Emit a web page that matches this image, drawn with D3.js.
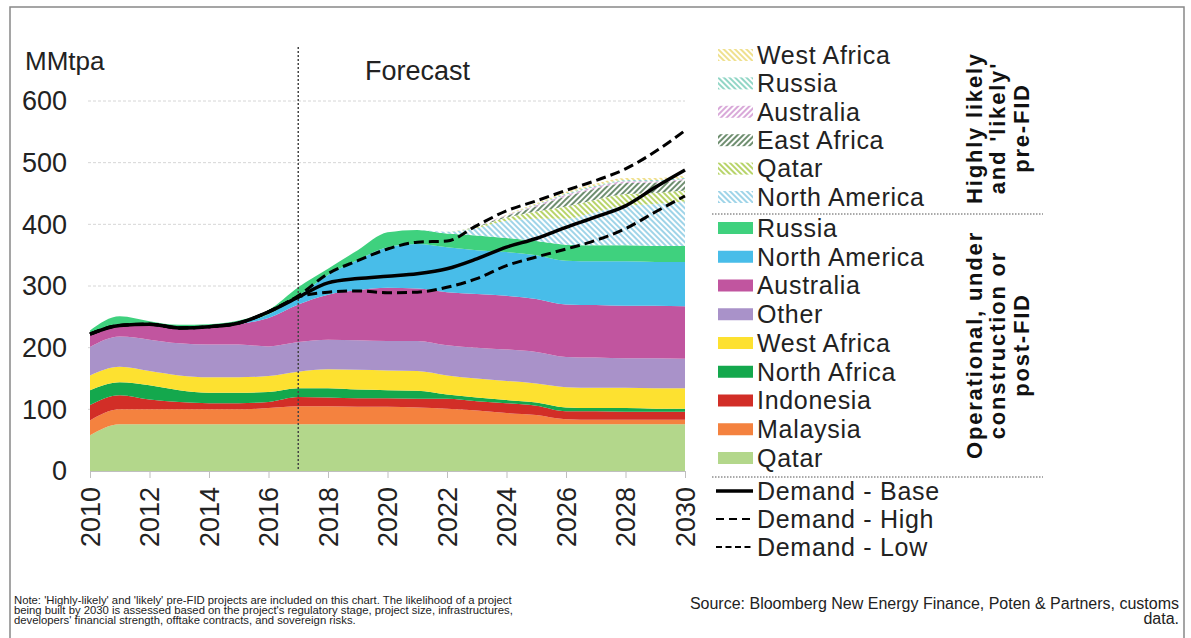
<!DOCTYPE html>
<html>
<head>
<meta charset="utf-8">
<script src="https://cdn.jsdelivr.net/npm/d3@7"></script>
<style>
  body { margin: 0; background: #fff; }
  svg { font-family: "Liberation Sans", Arial, sans-serif; }
</style>
</head>
<body>
<svg id="chart" width="1191" height="638"></svg>
<script>
// years on the x axis
const years = d3.range(2010, 2031);
const yTicks = [0, 100, 200, 300, 400, 500, 600];
const xTicks = d3.range(2010, 2031, 2);

// operational, under construction or post-FID (MMtpa), bottom -> top
const qatar        = [58, 76, 76, 76, 76, 76, 76, 76, 76, 76, 76, 76, 76, 76, 76, 76, 76, 76, 76, 76, 76];
const malaysia     = [24, 24, 24, 24, 24, 24, 26, 29, 29, 28, 28, 27, 25, 22, 18, 15, 8, 7, 7, 7, 7];
const indonesia    = [25, 23, 16, 12, 10, 10, 10, 15, 14, 14, 14, 14, 16, 15, 16, 15, 13, 14, 13, 13, 13];
const northAfrica  = [24, 21, 23, 19, 17, 17, 16, 14, 15, 14, 13, 13, 7, 6, 5, 5, 6, 5, 6, 5, 5];
const westAfrica   = [24, 25, 23, 24, 25, 25, 26, 27, 31, 32, 32, 32, 31, 31, 31, 31, 33, 33, 33, 33, 33];
const other        = [46, 49, 51, 52, 53, 53, 48, 48, 48, 48, 48, 49, 49, 50, 51, 51, 49, 49, 48, 49, 48];
const australia    = [21, 19, 23, 25, 29, 33, 46, 61, 73, 81, 86, 85, 86, 87, 87, 86, 85, 85, 85, 85, 85];
const northAmerica = [1, 1, 1, 1, 1, 2, 6, 14, 32, 49, 66, 72, 73, 71, 71, 71, 71, 71, 72, 71, 72];
const russia       = [5, 13, 6, 4, 3, 4, 7, 14, 10, 16, 24, 23, 22, 24, 23, 23, 26, 26, 26, 26, 26];

// highly likely and 'likely' pre-FID (MMtpa), bottom -> top
const pfNorthAmerica = [0, 0, 0, 0, 0, 0, 0, 0, 0, 0, 0, 0, 3, 12, 28, 36, 42, 54, 64, 68, 72];
const pfQatar        = [0, 0, 0, 0, 0, 0, 0, 0, 0, 0, 0, 0, 0, 2, 5, 12, 20, 20, 19, 18, 18];
const pfEastAfrica   = [0, 0, 0, 0, 0, 0, 0, 0, 0, 0, 0, 0, 0, 1, 3, 8, 16, 18, 18, 17, 17];
const pfAustralia    = [0, 0, 0, 0, 0, 0, 0, 0, 0, 0, 0, 0, 0, 0, 1, 2, 3, 3, 3, 2, 2];
const pfRussia       = [0, 0, 0, 0, 0, 0, 0, 0, 0, 0, 0, 0, 0, 0, 0, 1, 2, 2, 2, 2, 2];
const pfWestAfrica   = [0, 0, 0, 0, 0, 0, 0, 0, 0, 0, 0, 0, 0, 0, 1, 2, 3, 3, 3, 3, 3];

// demand scenarios
const demandBase = [222, 236, 238, 232, 234, 240, 258, 282, 305, 312, 316, 320, 328, 344, 363, 377, 395, 412, 430, 460, 488];
const demandHigh = [222, 236, 238, 232, 234, 240, 258, 284, 320, 341, 360, 371, 373, 398, 422, 438, 455, 471, 490, 518, 552];
const demandLow  = [222, 236, 238, 232, 234, 240, 258, 282, 290, 292, 289, 290, 298, 312, 333, 347, 360, 374, 393, 420, 446];

const opSeries = [
  { key: "op_qatar", label: "Qatar", values: qatar, color: "#b3d78b" },
  { key: "op_malaysia", label: "Malaysia", values: malaysia, color: "#f4823f" },
  { key: "op_indonesia", label: "Indonesia", values: indonesia, color: "#d22e27" },
  { key: "op_nafrica", label: "North Africa", values: northAfrica, color: "#14a84d" },
  { key: "op_wafrica", label: "West Africa", values: westAfrica, color: "#fde130" },
  { key: "op_other", label: "Other", values: other, color: "#a992c9" },
  { key: "op_australia", label: "Australia", values: australia, color: "#c1559f" },
  { key: "op_namerica", label: "North America", values: northAmerica, color: "#48bde9" },
  { key: "op_russia", label: "Russia", values: russia, color: "#3fd17e" }
];

const pfSeries = [
  { key: "pf_namerica", label: "North America", values: pfNorthAmerica, color: "#9fd4e8", angle: -45 },
  { key: "pf_qatar", label: "Qatar", values: pfQatar, color: "#b8d46a", angle: -45 },
  { key: "pf_eafrica", label: "East Africa", values: pfEastAfrica, color: "#6f8f70", angle: 45 },
  { key: "pf_australia", label: "Australia", values: pfAustralia, color: "#d9a9d9", angle: 45 },
  { key: "pf_russia", label: "Russia", values: pfRussia, color: "#92d6c6", angle: -45 },
  { key: "pf_wafrica", label: "West Africa", values: pfWestAfrica, color: "#efe08e", angle: -45 }
];

const allSeries = opSeries.concat(pfSeries);

const table = years.map((yr, i) => {
  let row = { year: yr };
  allSeries.forEach(s => { row[s.key] = s.values[i]; });
  return row;
});

const svg = d3.select("#chart");

const x = d3.scaleLinear().domain([2010, 2030]).range([90, 685]);
const y = d3.scaleLinear().domain([0, 600]).range([471, 101]);

// hatch patterns
const defs = svg.append("defs");
pfSeries.forEach(s => {
  let p = defs.append("pattern")
    .attr("id", "hatch_" + s.key)
    .attr("patternUnits", "userSpaceOnUse")
    .attr("width", 4)
    .attr("height", 4)
    .attr("patternTransform", "rotate(" + s.angle + ")");
  p.append("rect").attr("width", 4).attr("height", 4).attr("fill", "#fff");
  p.append("line")
    .attr("x1", 1).attr("y1", 0).attr("x2", 1).attr("y2", 4)
    .attr("stroke", s.color).attr("stroke-width", 2);
});

function fillOf(s) {
  return s.angle !== undefined ? "url(#hatch_" + s.key + ")" : s.color;
}

// gridlines
svg.append("g").selectAll("line")
  .data(yTicks.filter(d => d > 0))
  .enter().append("line")
  .attr("x1", 88).attr("x2", 685)
  .attr("y1", d => y(d)).attr("y2", d => y(d))
  .attr("stroke", "#d6d6d6")
  .attr("stroke-dasharray", "3,2");

// stacked areas
const stack = d3.stack().keys(allSeries.map(s => s.key));
const layers = stack(table);
const area = d3.area()
  .x(d => x(d.data.year))
  .y0(d => y(d[0]))
  .y1(d => y(d[1]))
  .curve(d3.curveMonotoneX);

svg.append("g").selectAll("path")
  .data(layers)
  .enter().append("path")
  .attr("d", area)
  .attr("fill", (d, i) => fillOf(allSeries[i]));

// x axis
const xAxis = svg.append("g")
  .attr("transform", "translate(0," + y(0) + ")")
  .call(d3.axisBottom(x).tickValues(xTicks).tickFormat(d3.format("d")).tickSize(7).tickSizeOuter(0));
xAxis.select(".domain").attr("stroke", "#bfbfbf");
xAxis.selectAll(".tick line").attr("stroke", "#bfbfbf");
xAxis.selectAll(".tick text")
  .attr("transform", "rotate(-90)")
  .attr("x", -16)
  .attr("y", 0)
  .attr("dy", "0.35em")
  .style("text-anchor", "end")
  .style("font-size", "27px")
  .style("font-family", "Liberation Sans, Arial, sans-serif")
  .attr("fill", "#222");

// y labels
svg.append("g").selectAll("text")
  .data(yTicks)
  .enter().append("text")
  .attr("x", 67)
  .attr("y", d => y(d))
  .attr("dy", "0.35em")
  .attr("text-anchor", "end")
  .style("font-size", "27px")
  .attr("fill", "#222")
  .text(d => d);

svg.append("text")
  .attr("x", 25).attr("y", 70)
  .style("font-size", "26px")
  .attr("fill", "#222")
  .text("MMtpa");

// forecast divider
svg.append("line")
  .attr("x1", x(2017)).attr("x2", x(2017))
  .attr("y1", 47).attr("y2", y(0))
  .attr("stroke", "#444")
  .attr("stroke-width", 1.5)
  .attr("stroke-dasharray", "2,2");

svg.append("text")
  .attr("x", 365).attr("y", 80)
  .style("font-size", "27px")
  .attr("fill", "#222")
  .text("Forecast");

// demand lines
const line = d3.line()
  .x((d, i) => x(years[i]))
  .y(d => y(d))
  .curve(d3.curveMonotoneX);

const demand = [
  { label: "Demand - Base", values: demandBase, width: 3.5, dash: null },
  { label: "Demand - High", values: demandHigh, width: 3, dash: "10,5" },
  { label: "Demand - Low", values: demandLow, width: 3, dash: "10,5" }
];

svg.append("g").selectAll("path")
  .data(demand.slice().reverse())
  .enter().append("path")
  .attr("d", d => line(d.values))
  .attr("fill", "none")
  .attr("stroke", "#000")
  .attr("stroke-width", d => d.width)
  .attr("stroke-dasharray", d => d.dash);

// legend
const legend = svg.append("g");
const swX = 718, txtX = 757;

function legendText(cy, label) {
  legend.append("text")
    .attr("x", txtX).attr("y", cy).attr("dy", "0.35em")
    .style("font-size", "25px")
    .style("letter-spacing", "0.7px")
    .attr("fill", "#222")
    .text(label);
}

const pfLegend = pfSeries.slice().reverse();
pfLegend.forEach((s, i) => {
  let cy = 55 + i * 28.4;
  legend.append("rect")
    .attr("x", swX).attr("y", cy - 6).attr("width", 35).attr("height", 12)
    .attr("fill", fillOf(s));
  legendText(cy, s.label);
});

const opLegend = opSeries.slice().reverse();
opLegend.forEach((s, i) => {
  let cy = 228 + i * 28.75;
  legend.append("rect")
    .attr("x", swX).attr("y", cy - 6).attr("width", 35).attr("height", 12)
    .attr("fill", fillOf(s));
  legendText(cy, s.label);
});

demand.forEach((d, i) => {
  let cy = 491 + i * 28;
  legend.append("line")
    .attr("x1", 716).attr("x2", 753)
    .attr("y1", cy).attr("y2", cy)
    .attr("stroke", "#000")
    .attr("stroke-width", i === 0 ? 3.5 : 2)
    .attr("stroke-dasharray", i === 0 ? null : (i === 1 ? "8,5" : "6,3.5"));
  legendText(cy, d.label);
});

// group separators
[214, 477].forEach(sy => {
  legend.append("line")
    .attr("x1", 712).attr("x2", 1043)
    .attr("y1", sy).attr("y2", sy)
    .attr("stroke", "#555")
    .attr("stroke-dasharray", "1.5,1.5");
});

// group titles
function groupTitle(lines, cy) {
  lines.forEach((t, i) => {
    let cx = 974 + i * 23.5;
    legend.append("text")
      .attr("transform", "translate(" + cx + "," + cy + ") rotate(-90)")
      .attr("text-anchor", "middle")
      .attr("dy", "0.36em")
      .style("font-size", "22px")
      .style("font-weight", "bold")
      .style("letter-spacing", "1.8px")
      .attr("fill", "#111")
      .text(t);
  });
}
groupTitle(["Highly likely", "and 'likely'", "pre-FID"], 128);
groupTitle(["Operational, under", "construction or", "post-FID"], 345);

// notes
const notes = [
  "Note: 'Highly-likely' and 'likely' pre-FID projects are included on this chart. The likelihood of a project",
  "being built by 2030 is assessed based on the project's regulatory stage, project size, infrastructures,",
  "developers' financial strength, offtake contracts, and sovereign risks."
];
svg.append("g").selectAll("text")
  .data(notes)
  .enter().append("text")
  .attr("x", 14)
  .attr("y", (d, i) => 604 + i * 10)
  .style("font-size", "11.3px")
  .attr("fill", "#222")
  .text(d => d);

const source = ["Source: Bloomberg New Energy Finance, Poten & Partners, customs", "data."];
svg.append("g").selectAll("text")
  .data(source)
  .enter().append("text")
  .attr("x", 1179)
  .attr("y", (d, i) => 609 + i * 15)
  .attr("text-anchor", "end")
  .style("font-size", "16px")
  .attr("fill", "#222")
  .text(d => d);

// frame
svg.append("path")
  .attr("d", "M10,638V7H1184V638")
  .attr("fill", "none")
  .attr("stroke", "#888")
  .attr("stroke-width", 1.5);
</script>
</body>
</html>
